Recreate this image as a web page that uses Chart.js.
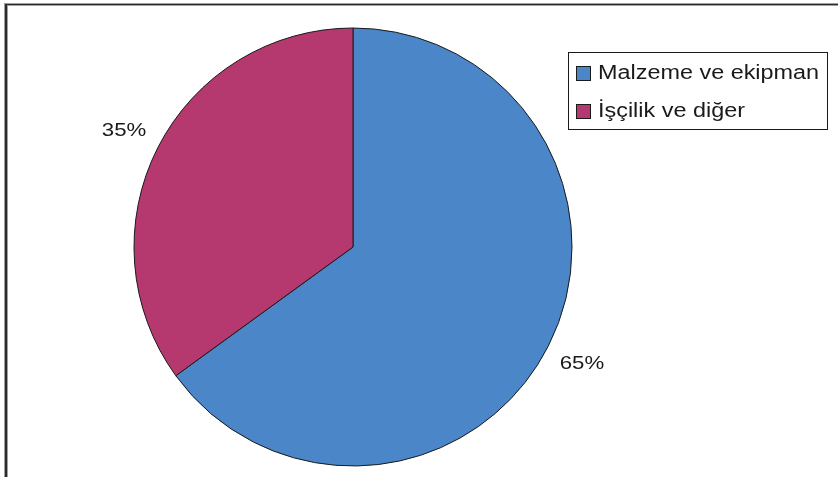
<!DOCTYPE html>
<html>
<head>
<meta charset="utf-8">
<script src="https://cdn.jsdelivr.net/npm/chart.js@4/dist/chart.umd.min.js"></script>
<style>
html,body{margin:0;padding:0;background:#fff;}
#wrap{position:relative;width:838px;height:477px;}
</style>
</head>
<body>
<div id="wrap"><canvas id="c" width="838" height="477"></canvas></div>
<script>
const categories = ["Malzeme ve ekipman", "İşçilik ve diğer"];
const values = [65, 35];
const pctLabels = ["65%", "35%"];
const colors = ["#4a86c8", "#b5386f"];

const FONT = '"Liberation Sans", Arial, sans-serif';

const framePlugin = {
  id: 'frame',
  beforeDraw(chart) {
    const ctx = chart.ctx;
    ctx.save();
    ctx.fillStyle = '#fff';
    ctx.fillRect(0, 0, chart.width, chart.height);
    ctx.fillStyle = '#a0a0a0';
    ctx.fillRect(4, 3, chart.width - 4, 3);
    ctx.fillRect(4, 3, 4, chart.height - 3);
    ctx.fillStyle = '#2a2a2a';
    ctx.fillRect(5, 4, chart.width - 5, 1);
    ctx.fillRect(5, 4, 2, chart.height - 4);
    ctx.restore();
  }
};

const labelPlugin = {
  id: 'pctLabels',
  afterDatasetsDraw(chart) {
    const ctx = chart.ctx;
    const meta = chart.getDatasetMeta(0);
    ctx.save();
    ctx.font = '19px ' + FONT;
    ctx.fillStyle = '#1a1a1a';
    ctx.textAlign = 'center';
    ctx.textBaseline = 'middle';
    meta.data.forEach((arc, i) => {
      const p = arc.getProps(['x', 'y', 'startAngle', 'endAngle', 'outerRadius'], true);
      const mid = (p.startAngle + p.endAngle) / 2;
      const d = p.outerRadius + 38;
      const x = p.x + Math.cos(mid) * d;
      const y = p.y + Math.sin(mid) * d;
      ctx.save();
      ctx.translate(x, y);
      ctx.scale(1.17, 1);
      ctx.fillText(pctLabels[i], 0, 0);
      ctx.restore();
    });
    ctx.restore();
  }
};

const legendPlugin = {
  id: 'boxLegend',
  afterDraw(chart) {
    const ctx = chart.ctx;
    ctx.save();
    ctx.strokeStyle = '#1a1a1a';
    ctx.lineWidth = 1;
    ctx.strokeRect(568.5, 52.5, 259, 77);
    ctx.font = '20px ' + FONT;
    ctx.textBaseline = 'alphabetic';
    const cols = chart.data.datasets[0].backgroundColor;
    chart.data.labels.forEach((lab, i) => {
      const y = 67 + i * 38;
      ctx.fillStyle = cols[i];
      ctx.fillRect(577, y, 13, 13);
      ctx.strokeStyle = '#1a1a1a';
      ctx.strokeRect(576.5, y - 0.5, 14, 14);
      ctx.fillStyle = '#1a1a1a';
      ctx.save();
      ctx.translate(598, y + 12);
      ctx.scale(1.17, 1);
      ctx.fillText(lab, 0, 0);
      ctx.restore();
    });
    ctx.restore();
  }
};

new Chart(document.getElementById('c'), {
  type: 'pie',
  data: {
    labels: categories,
    datasets: [{
      data: values,
      backgroundColor: colors,
      borderColor: '#1a1a1a',
      borderWidth: 1
    }]
  },
  options: {
    responsive: false,
    animation: false,
    devicePixelRatio: 1,
    radius: 219,
    layout: { padding: { left: 134, right: 266, top: 28, bottom: 11 } },
    plugins: {
      legend: { display: false },
      tooltip: { enabled: false }
    }
  },
  plugins: [framePlugin, labelPlugin, legendPlugin]
});
</script>
</body>
</html>
